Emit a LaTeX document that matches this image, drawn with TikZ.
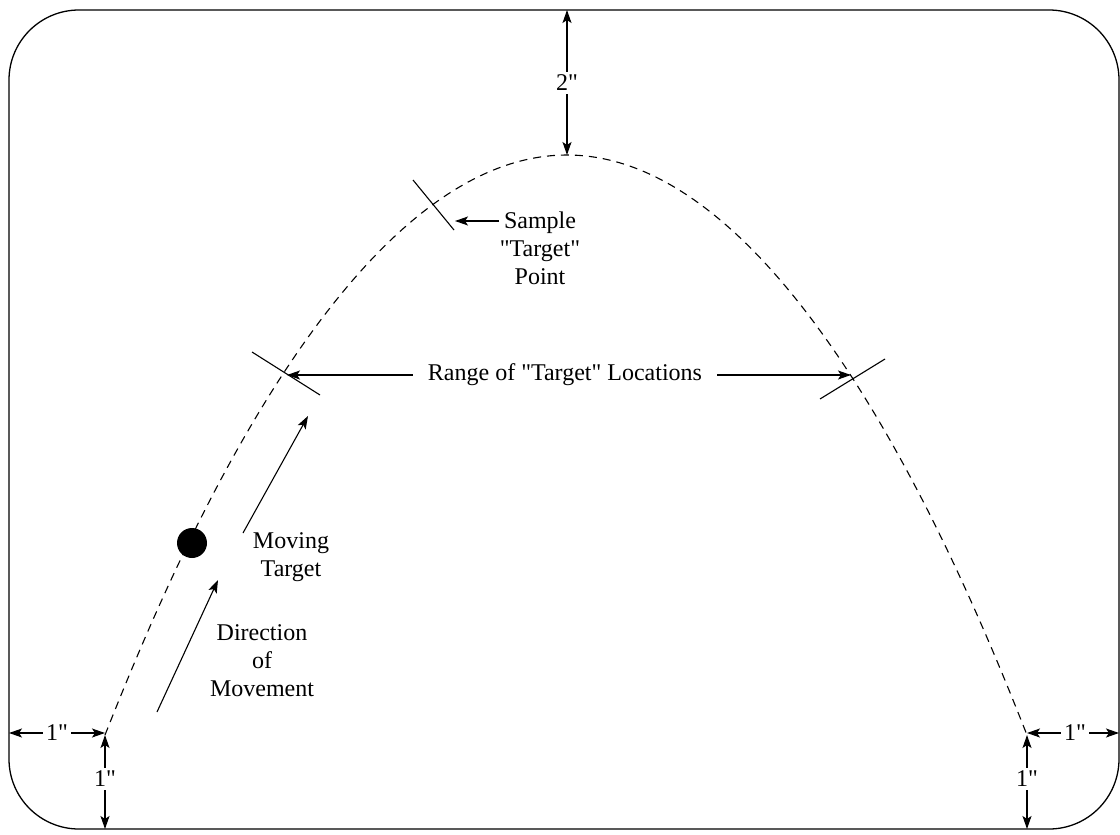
\documentclass[tikz,border=0pt]{standalone}
\usepackage{fontspec}
\newfontfamily\diagfont{Liberation Serif}
\usetikzlibrary{arrows.meta,calc}

\tikzset{
  dimarrow/.style={-{Stealth[length=13pt,width=9pt,inset=3pt]}, line width=1.1pt},
  lbl/.style={font=\diagfont\fontsize{24}{28}\selectfont, align=center, inner sep=3pt},
  crossmark/.style={line width=1.1pt},
  pathline/.style={line width=1.1pt, dash pattern=on 8pt off 6pt},
}

\begin{document}
\begin{tikzpicture}[x=1pt,y=-1pt]
        \useasboundingbox (0,0) rectangle (1120,835);
        % outer frame
        \draw[line width=1.3pt, rounded corners=70pt] (9,10) rectangle (1119,829);
        \coordinate (topmid) at (567,10);
        \coordinate (leftmid) at (9,733);
        \coordinate (rightmid) at (1119,733);
        \coordinate (botL) at (105,829);
        \coordinate (botR) at (1027,829);
        
        % path of the target
        \coordinate (startL) at (105,735);
        \coordinate (apex) at (567,155);
        \coordinate (endR) at (1027,735);
        \draw[pathline] (startL) parabola bend (apex) (endR);
        
        % target marks
        \coordinate (tL) at (287,373);
        \coordinate (tS) at (434,205);
        \coordinate (tR) at (851,379);
        \draw[crossmark] ($(tL)+(-35,-21)$) -- ($(tL)+(33,22)$);
        \draw[crossmark] ($(tS)+(-21,-25)$) -- ($(tS)+(20,25)$);
        \draw[crossmark] ($(tR)+(-31,20)$) -- ($(tR)+(34,-20)$);
        
        % sample point
        \node[lbl] (smp) at (540,248) {Sample\\"Target"\\Point};
        \coordinate (smpA) at (499,221);
        \coordinate (smpB) at (455,221);
        \draw[dimarrow] (smpA) -- (smpB);
        
        % range of locations
        \node[lbl, inner xsep=15pt] (rng) at (565,375) {Range of "Target" Locations};
        \draw[dimarrow] (rng.west) -- (rng.west -| tL);
        \draw[dimarrow] (rng.east) -- (rng.east -| tR);
        
        % moving target
        \node[circle, fill, minimum size=30pt, inner sep=0pt] (ball) at (192,543) {};
        \node[lbl] (mov) at (291,557) {Moving\\Target};
        \coordinate (mvA) at (243,533);
        \coordinate (mvB) at (308,416);
        \draw[dimarrow] (mvA) -- (mvB);
        
        \node[lbl] (dir) at (262,661) {Direction\\of\\Movement};
        \coordinate (dirA) at (157,712);
        \coordinate (dirB) at (218,580);
        \draw[dimarrow] (dirA) -- (dirB);
        
        % dimensions
        \node[lbl] (d2) at (567,83) {2"};
        \draw[dimarrow] (d2) -- (topmid);
        \draw[dimarrow] (d2) -- (apex);
        
        \node[lbl] (dL) at (57,733) {1"};
        \draw[dimarrow] (dL) -- (leftmid);
        \draw[dimarrow] (dL) -- (dL -| startL);
        \node[lbl] (dLv) at (105,779) {1"};
        \draw[dimarrow] (dLv) -- (startL);
        \draw[dimarrow] (dLv) -- (botL);
        
        \node[lbl] (dR) at (1075,733) {1"};
        \draw[dimarrow] (dR) -- (dR -| endR);
        \draw[dimarrow] (dR) -- (rightmid);
        \node[lbl] (dRv) at (1027,779) {1"};
        \draw[dimarrow] (dRv) -- (endR);
        \draw[dimarrow] (dRv) -- (botR);
\end{tikzpicture}
\end{document}
